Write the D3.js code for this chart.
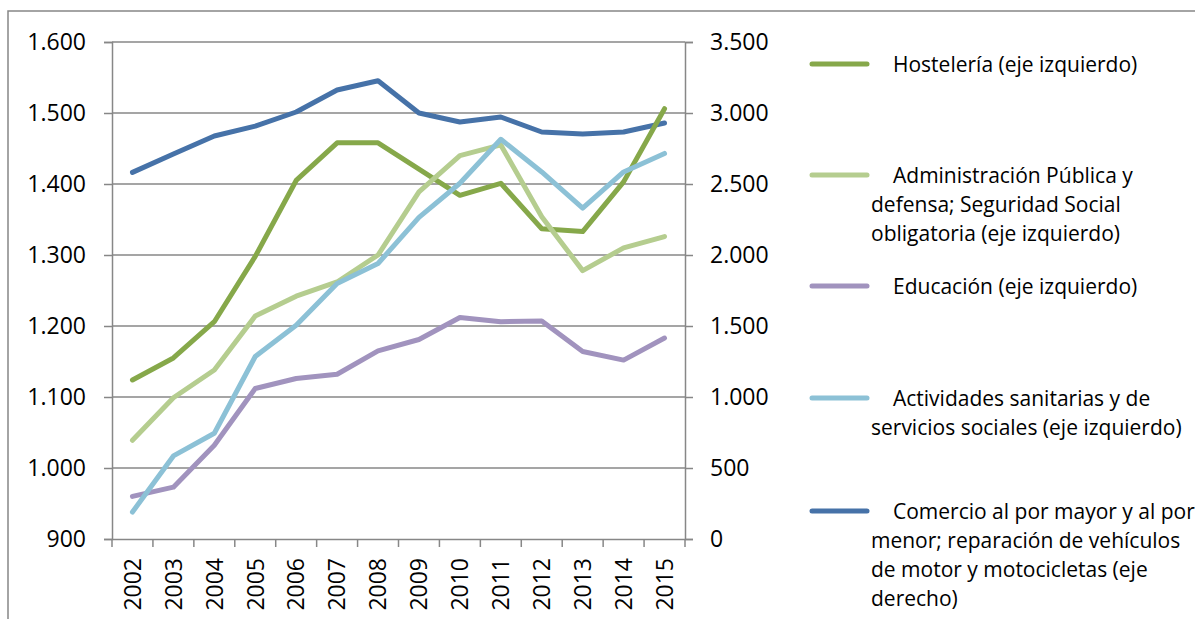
<!DOCTYPE html>
<html><head><meta charset="utf-8">
<script src="https://cdn.jsdelivr.net/npm/d3@7"></script>
<style>
html,body{margin:0;padding:0;background:#fff;}
svg{display:block;}
text{font-family:"Open Sans",sans-serif;fill:#000;}
</style></head>
<body>
<svg id="chart" width="1195" height="619"></svg>
<script>
const years = [2002,2003,2004,2005,2006,2007,2008,2009,2010,2011,2012,2013,2014,2015];
const hosteleria = [1124,1155,1206,1298,1405,1458,1458,1421,1384,1401,1337,1333,1403,1506];
const administracion = [1039,1099,1138,1214,1242,1262,1300,1389,1440,1455,1354,1278,1310,1326];
const educacion = [960,973,1032,1112,1126,1132,1165,1181,1212,1206,1207,1164,1152,1183];
const actividades = [938,1017,1049,1157,1201,1260,1288,1353,1401,1463,1417,1366,1417,1443];
const comercio = [2582,2711,2838,2908,3007,3162,3227,3000,2937,2972,2866,2852,2866,2930];
const leftTicks = [900,1000,1100,1200,1300,1400,1500,1600];
const rightTicks = [0,500,1000,1500,2000,2500,3000,3500];
const seriesNames = [
  ["Hostelería (eje izquierdo)"],
  ["Administración Pública y","defensa; Seguridad Social","obligatoria (eje izquierdo)"],
  ["Educación (eje izquierdo)"],
  ["Actividades sanitarias y de","servicios sociales (eje izquierdo)"],
  ["Comercio al por mayor y al por","menor; reparación de vehículos","de motor y motocicletas (eje","derecho)"]
];
const colors = ["#86a84a","#b5cd8f","#a193be","#8cc1d6","#4672a8"];

const svg = d3.select("#chart");
const L = 112, R = 685, T = 42, B = 539;
const fmt = v => d3.format(",")(v).replace(/,/g,".");

// outer border
svg.append("rect").attr("x",8).attr("y",11).attr("width",1300).attr("height",700)
  .attr("fill","none").attr("stroke","#868686").attr("stroke-width",1.5);

const x = d3.scaleBand().domain(years).range([L,R]).padding(0);
const yL = d3.scaleLinear().domain([900,1600]).range([B,T]);
const yR = d3.scaleLinear().domain([0,3500]).range([B,T]);

// gridlines
svg.append("g").selectAll("line").data(leftTicks.slice(1)).join("line")
  .attr("x1",L).attr("x2",R).attr("y1",d=>yL(d)).attr("y2",d=>yL(d))
  .attr("stroke","#878787").attr("stroke-width",1.5);

// left axis
const gl = svg.append("g").attr("transform",`translate(${L},0)`)
  .call(d3.axisLeft(yL).tickValues(leftTicks).tickFormat(fmt).tickSize(8).tickPadding(18));
// right axis
const gr = svg.append("g").attr("transform",`translate(${R},0)`)
  .call(d3.axisRight(yR).tickValues(rightTicks).tickFormat(fmt).tickSize(8).tickPadding(17));
// bottom axis
const gb = svg.append("g").attr("transform",`translate(0,${B})`)
  .call(d3.axisBottom(x).tickSize(0).tickFormat(d=>d));
// bottom ticks at band edges
svg.append("g").selectAll("line").data(years.concat([null])).join("line")
  .attr("x1",(d,i)=>L+i*x.bandwidth()).attr("x2",(d,i)=>L+i*x.bandwidth())
  .attr("y1",B).attr("y2",B+8).attr("stroke","#878787").attr("stroke-width",1.5);

[gl,gr,gb].forEach(g=>{
  g.selectAll(".domain").attr("stroke","#878787").attr("stroke-width",1.5);
  g.selectAll(".tick line").attr("stroke","#878787").attr("stroke-width",1.5);
  g.selectAll("text").attr("font-size",23).attr("font-family","'Open Sans',sans-serif").attr("fill","#000");
});
gb.selectAll(".tick text")
  .attr("transform","rotate(-90)")
  .attr("text-anchor","end").attr("x",-19).attr("y",0).attr("dy","0.36em");

// lines
const allSeries = [
  {v:hosteleria, s:yL},
  {v:administracion, s:yL},
  {v:educacion, s:yL},
  {v:actividades, s:yL},
  {v:comercio, s:yR}
];
const drawOrder = [4,0,1,2,3];
drawOrder.forEach(i=>{
  const sr = allSeries[i];
  const line = d3.line().x((d,j)=>x(years[j])+x.bandwidth()/2).y(d=>sr.s(d));
  svg.append("path").datum(sr.v).attr("d",line)
    .attr("fill","none").attr("stroke",colors[i]).attr("stroke-width",5)
    .attr("stroke-linejoin","round").attr("stroke-linecap","round");
});

// legend
const legY = [64,175,286,398,511];
const lg = svg.append("g");
seriesNames.forEach((lines,i)=>{
  lg.append("line").attr("x1",812).attr("x2",867).attr("y1",legY[i]).attr("y2",legY[i])
    .attr("stroke",colors[i]).attr("stroke-width",5).attr("stroke-linecap","round");
  const t = lg.append("text").attr("font-size",21).attr("y",legY[i]);
  lines.forEach((ln,k)=>{
    t.append("tspan").attr("x",k===0?893:871).attr("dy",k===0?"0.36em":29).text(ln);
  });
});
</script>
</body></html>
